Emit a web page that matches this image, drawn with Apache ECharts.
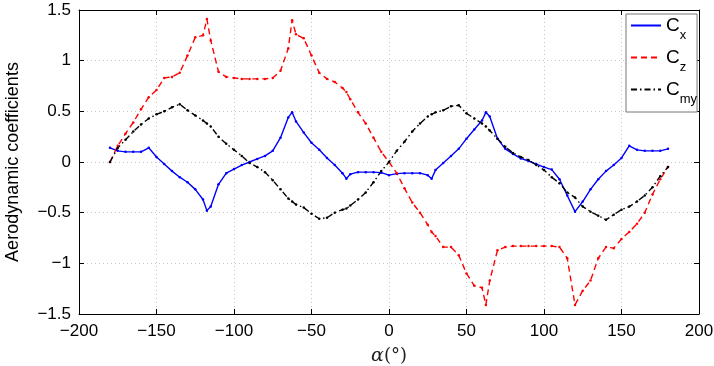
<!DOCTYPE html>
<html>
<head>
<meta charset="utf-8">
<script src="https://cdn.jsdelivr.net/npm/echarts@6/dist/echarts.min.js"></script>
<style>html,body{margin:0;padding:0;background:#fff}#c{width:714px;height:366px}</style>
</head>
<body>
<div id="c"></div>
<script>
const alpha = [-180,-175,-170,-165,-160,-155,-150,-145,-140,-135,-130,-125,-120,-117.5,-115,-110,-105,-100,-95,-90,-85,-80,-75,-70,-65,-62.5,-60,-55,-50,-45,-40,-35,-30,-27.5,-25,-20,-15,-10,-5,0,5,10,15,20,25,27.5,30,35,40,45,50,55,60,62.5,65,70,75,80,85,90,95,100,105,110,115,120,125,130,135,140,145,150,155,160,165,170,175,180];
const cx = [0.14,0.11,0.10,0.10,0.10,0.14,0.05,-0.02,-0.09,-0.15,-0.20,-0.27,-0.37,-0.48,-0.44,-0.22,-0.11,-0.07,-0.03,0.0,0.03,0.06,0.11,0.24,0.44,0.49,0.40,0.29,0.19,0.12,0.04,-0.03,-0.11,-0.165,-0.12,-0.10,-0.10,-0.10,-0.105,-0.13,-0.115,-0.11,-0.11,-0.11,-0.13,-0.165,-0.08,-0.01,0.06,0.13,0.23,0.32,0.41,0.49,0.45,0.23,0.13,0.08,0.035,0.01,-0.02,-0.05,-0.075,-0.17,-0.33,-0.49,-0.39,-0.27,-0.17,-0.09,-0.03,0.04,0.16,0.12,0.11,0.11,0.11,0.13];
const cz = [0.0,0.16,0.28,0.39,0.52,0.64,0.71,0.83,0.84,0.88,1.05,1.23,1.25,1.41,1.20,0.89,0.84,0.83,0.82,0.82,0.82,0.82,0.83,0.90,1.12,1.40,1.26,1.22,1.05,0.88,0.82,0.79,0.73,0.69,0.62,0.49,0.38,0.24,0.10,0.0,-0.11,-0.26,-0.40,-0.50,-0.62,-0.69,-0.73,-0.84,-0.84,-0.92,-1.10,-1.22,-1.24,-1.41,-1.17,-0.87,-0.84,-0.83,-0.83,-0.83,-0.83,-0.83,-0.83,-0.84,-0.95,-1.41,-1.27,-1.17,-0.95,-0.84,-0.85,-0.76,-0.69,-0.61,-0.50,-0.32,-0.17,-0.05];
const cmy = [0.0,0.14,0.22,0.30,0.37,0.43,0.47,0.50,0.54,0.57,0.51,0.46,0.41,0.38,0.35,0.25,0.18,0.12,0.06,-0.01,-0.05,-0.10,-0.18,-0.27,-0.36,-0.39,-0.42,-0.45,-0.51,-0.56,-0.55,-0.50,-0.47,-0.46,-0.43,-0.37,-0.30,-0.20,-0.09,0.0,0.11,0.20,0.30,0.38,0.45,0.47,0.49,0.51,0.55,0.56,0.48,0.43,0.38,0.35,0.31,0.23,0.15,0.09,0.05,0.02,-0.03,-0.08,-0.15,-0.21,-0.30,-0.35,-0.44,-0.49,-0.53,-0.57,-0.52,-0.47,-0.44,-0.39,-0.33,-0.25,-0.14,-0.05];
const seriesNames = ['Cx','Cz','Cmy'];
const subs = {Cx:'x', Cz:'z', Cmy:'my'};
const xTicks = {min:-200, max:200, step:50};
const yTicks = {min:-1.5, max:1.5, step:0.5};

const FONT = '"Liberation Sans", Arial, Helvetica, sans-serif';
const fmt = v => String(v).replace('-', '\u2212');
const grid = {left:79, right:15, top:10, bottom:52, containLabel:false, outerBoundsMode:'none'};
const gridLine = {show:true, lineStyle:{color:'#c8c8c8', type:[1,3], width:1}};
const axLine = {show:true, onZero:false, lineStyle:{color:'#000', width:1}};
const tick = {show:true, inside:true, length:5, lineStyle:{color:'#000'}};

const chart = echarts.init(document.getElementById('c'), null, {renderer:'canvas'});
function mk(name, vals, color, ltype) {
  return {
    name, type:'line', xAxisIndex:0, yAxisIndex:0,
    data: alpha.map((a,i)=>[a, vals[i]]),
    symbol:'circle', symbolSize:2.5, showSymbol:true,
    itemStyle:{color}, lineStyle:{color, width:1.4, type:ltype},
    animation:false
  };
}
chart.setOption({
  animation:false,
  backgroundColor:'#fff',
  grid,
  legend:{
    orient:'vertical', left:626, top:14,
    itemWidth:30, itemHeight:12, itemGap:6,
    padding:[2,0,6,4],
    borderColor:'#777', borderWidth:1, backgroundColor:'#fff',
    itemStyle:{opacity:0},
    data: seriesNames,
    formatter: n => '{m|C}{s|' + subs[n] + '}',
    textStyle:{rich:{
      m:{fontFamily:FONT, fontSize:19, color:'#000', verticalAlign:'bottom'},
      s:{fontFamily:FONT, fontSize:13, color:'#000', verticalAlign:'bottom', padding:[0,0,-7,0]}
    }}
  },
  xAxis:[
    {type:'value', min:xTicks.min, max:xTicks.max, interval:xTicks.step, position:'bottom',
     axisLine:axLine, axisTick:tick, splitLine:gridLine,
     axisLabel:{formatter:fmt, fontFamily:FONT, fontSize:17, color:'#000', margin:9},
     name:'{a|\u03b1}{b|(\u00b0)}', nameLocation:'middle', nameGap:33,
     nameTextStyle:{rich:{a:{fontFamily:'"DejaVu Serif", serif', fontStyle:'italic', fontSize:19, color:'#222'},
                          b:{fontFamily:'"DejaVu Serif", serif', fontSize:18, color:'#222'}}}},
    {type:'value', min:xTicks.min, max:xTicks.max, interval:xTicks.step, position:'top',
     axisLine:axLine, axisTick:tick, splitLine:{show:false}, axisLabel:{show:false}}
  ],
  yAxis:[
    {type:'value', min:yTicks.min, max:yTicks.max, interval:yTicks.step, position:'left',
     axisLine:axLine, axisTick:tick, splitLine:gridLine,
     axisLabel:{formatter:fmt, fontFamily:FONT, fontSize:17, color:'#000', margin:8},
     name:'Aerodynamic coefficients', nameLocation:'middle', nameGap:57,
     nameTextStyle:{fontFamily:FONT, fontSize:18, color:'#000'}},
    {type:'value', min:yTicks.min, max:yTicks.max, interval:yTicks.step, position:'right',
     axisLine:axLine, axisTick:tick, splitLine:{show:false}, axisLabel:{show:false}}
  ],
  series:[
    mk('Cx', cx, '#0000ff', 'solid'),
    mk('Cz', cz, '#ff0000', [6,4]),
    mk('Cmy', cmy, '#000000', [6,3,1.5,3])
  ]
});
</script>
</body>
</html>
